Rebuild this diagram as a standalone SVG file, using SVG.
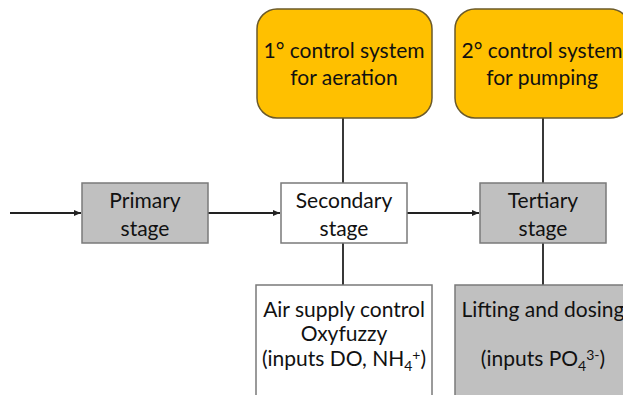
<svg xmlns="http://www.w3.org/2000/svg" width="623" height="395" viewBox="0 0 623 395">
<defs>
<style>
.t{font-family:Lato,"Open Sans",sans-serif;font-size:21px;fill:#111;text-anchor:middle}
.s{font-size:14px}
.gray{fill:#c0c0c0;stroke:#7a7a7a;stroke-width:1.5}
.white{fill:#fff;stroke:#7a7a7a;stroke-width:1.5}
.orange{fill:#ffc000;stroke:#6b5a2a;stroke-width:1.5}
.ln{stroke:#222;stroke-width:1.8;fill:none}
</style>
<marker id="ah" markerWidth="8" markerHeight="8" refX="7" refY="4" orient="auto" markerUnits="userSpaceOnUse">
<path d="M0,1 L7,4 L0,7 Z" fill="#222"/>
</marker>
</defs>
<rect width="623" height="395" fill="#fff"/>
<g id="connectors">
<line class="ln" x1="10" y1="213" x2="81" y2="213" marker-end="url(#ah)"/>
<line class="ln" x1="208" y1="213" x2="280" y2="213" marker-end="url(#ah)"/>
<line class="ln" x1="407" y1="213" x2="479" y2="213" marker-end="url(#ah)"/>
<line class="ln" x1="343" y1="118" x2="343" y2="183"/>
<line class="ln" x1="343" y1="243" x2="343" y2="285"/>
<line class="ln" x1="543" y1="118" x2="543" y2="183"/>
<line class="ln" x1="543" y1="243" x2="543" y2="285"/>
</g>
<g id="primary">
<rect class="gray" x="82" y="183" width="126" height="60"/>
<text class="t" x="145" y="208">Primary</text>
<text class="t" x="145" y="236">stage</text>
</g>
<g id="secondary">
<rect class="white" x="281" y="183" width="126" height="60"/>
<text class="t" x="344" y="208">Secondary</text>
<text class="t" x="344" y="236">stage</text>
</g>
<g id="tertiary">
<rect class="gray" x="480" y="183" width="126" height="60"/>
<text class="t" x="543" y="208">Tertiary</text>
<text class="t" x="543" y="236">stage</text>
</g>
<g id="control1">
<rect class="orange" x="257" y="9" width="175" height="109" rx="20"/>
<text class="t" x="344" y="58">1° control system</text>
<text class="t" x="344" y="85">for aeration</text>
</g>
<g id="control2">
<rect class="orange" x="455" y="9" width="175" height="109" rx="20"/>
<text class="t" x="542" y="58">2° control system</text>
<text class="t" x="542" y="85">for pumping</text>
</g>
<g id="airsupply">
<rect class="white" x="256" y="285" width="176" height="120"/>
<text class="t" x="344" y="317">Air supply control</text>
<text class="t" x="344" y="341">Oxyfuzzy</text>
<text class="t" x="344" y="366">(inputs DO, NH<tspan class="s" dy="5">4</tspan><tspan class="s" dy="-11">+</tspan><tspan dy="6">)</tspan></text>
</g>
<g id="lifting">
<rect class="gray" x="455" y="285" width="176" height="120"/>
<text class="t" x="543" y="317">Lifting and dosing</text>
<text class="t" x="543" y="366">(inputs PO<tspan class="s" dy="5">4</tspan><tspan class="s" dy="-11">3-</tspan><tspan dy="6">)</tspan></text>
</g>
</svg>
